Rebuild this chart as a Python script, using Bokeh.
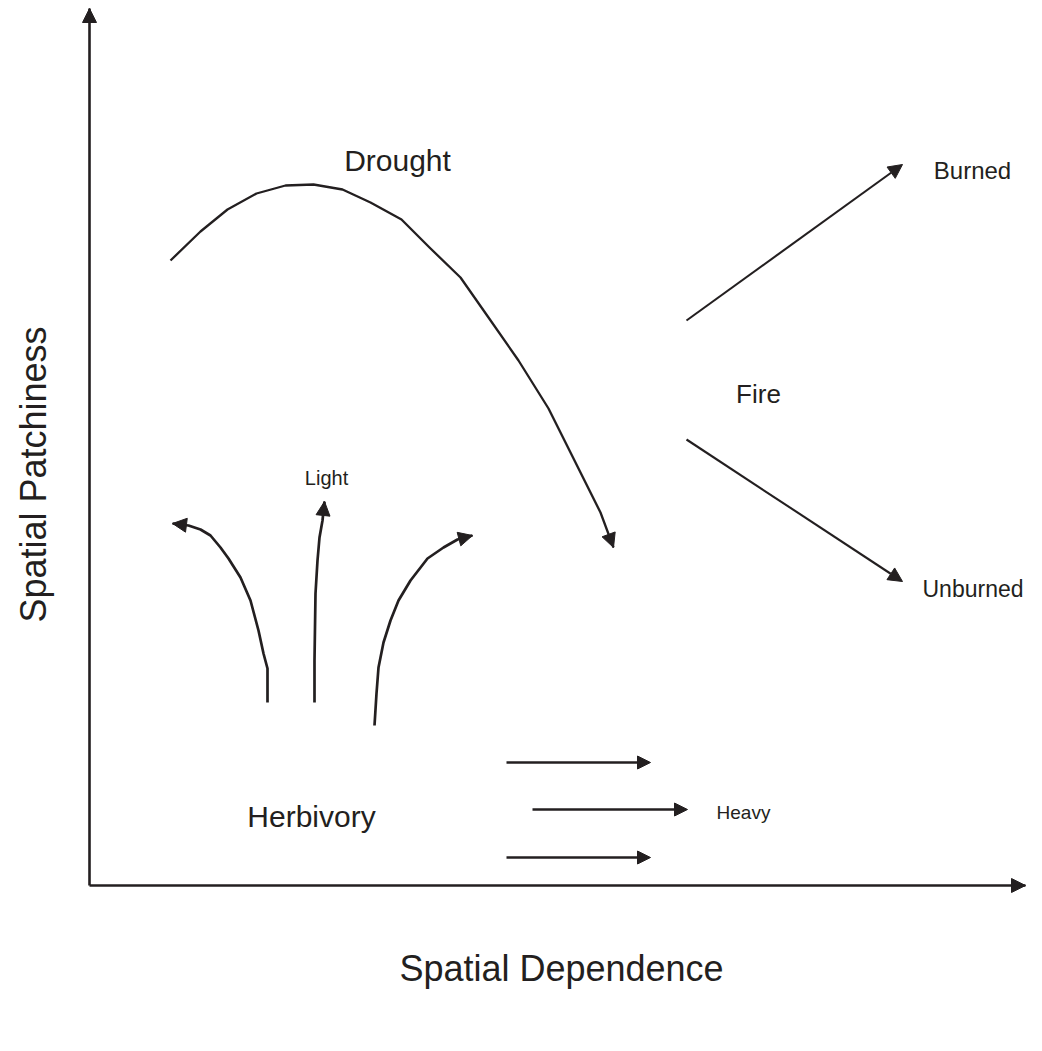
from bokeh.plotting import figure
from bokeh.models import Range1d, Arrow, NormalHead, Label
from bokeh.embed import file_html
from bokeh.resources import INLINE

INK = "#231f20"
FONT = "Liberation Sans"

# Axes (diagram coordinates)
axis_x_line = [89, 89, 1025]
axis_y_line = [8, 885, 885]

# Drought curve
drought_x = [170, 200, 227, 256, 285, 313, 342, 370, 401, 429, 460, 488, 518, 548, 575, 600, 613]
drought_y = [260, 231, 209, 193, 185, 184, 189, 202, 219, 247, 277, 317, 360, 408, 462, 512, 547]

# Light herbivory arrows
herb_left_x = [267, 267, 263, 258, 250, 240, 228, 220, 210, 200, 188, 172]
herb_left_y = [702, 668, 653, 630, 600, 577, 558, 547, 535, 529, 525, 523]
herb_mid_x = [314, 314, 315, 317, 319, 322, 324]
herb_mid_y = [702, 660, 593, 560, 537, 520, 501]
herb_right_x = [374, 376, 378, 383, 390, 398, 410, 427, 443, 457, 472]
herb_right_y = [725, 693, 667, 642, 620, 600, 580, 558, 547, 539, 535]

# Heavy herbivory arrows (x_start, x_end, y)
heavy_x0 = [506, 532, 506]
heavy_x1 = [650, 687, 650]
heavy_y = [762, 809, 857]

# Fire arrows
fire_x0 = [686, 686]
fire_y0 = [320, 439]
fire_x1 = [902, 902]
fire_y1 = [164, 581]

# Labels
label_text = ["Drought", "Burned", "Fire", "Light", "Herbivory", "Heavy", "Unburned"]
label_x = [397, 972, 758, 326, 311, 743, 1023]
label_y = [160, 170, 393, 477, 816, 812, 588]
label_size = [30, 24, 26, 20, 30, 19, 23]
label_align = ["center", "center", "center", "center", "center", "center", "right"]

x_title = "Spatial Dependence"
y_title = "Spatial Patchiness"

W, H = 1026, 1035
p = figure(width=W, height=H, output_backend="svg", toolbar_location=None,
           x_range=Range1d(0, W), y_range=Range1d(H, 0),
           min_border=0)
p.axis.visible = False
p.grid.visible = False
p.outline_line_color = None
p.background_fill_color = "white"
p.border_fill_color = "white"


def head(size=13):
    return NormalHead(size=size, fill_color=INK, line_color=INK, line_width=1)


# axes
p.line(axis_x_line[:2], axis_y_line[:2], line_color=INK, line_width=2.6)
p.line(axis_x_line[1:], axis_y_line[1:], line_color=INK, line_width=2.6)
p.add_layout(Arrow(end=head(14), x_start=axis_x_line[0], y_start=axis_y_line[0] + 20,
                   x_end=axis_x_line[0], y_end=axis_y_line[0], line_alpha=0))
p.add_layout(Arrow(end=head(14), x_start=axis_x_line[2] - 20, y_start=axis_y_line[2],
                   x_end=axis_x_line[2], y_end=axis_y_line[2], line_alpha=0))


def curve(xs, ys, lw=2.3, hs=14):
    p.line(xs, ys, line_color=INK, line_width=lw, line_join="round")
    p.add_layout(Arrow(end=head(hs), x_start=xs[-2], y_start=ys[-2],
                       x_end=xs[-1], y_end=ys[-1], line_alpha=0))


curve(drought_x, drought_y)
curve(herb_left_x, herb_left_y, lw=2.7)
curve(herb_mid_x, herb_mid_y, lw=2.7)
curve(herb_right_x, herb_right_y, lw=2.7)

for x0, x1, y in zip(heavy_x0, heavy_x1, heavy_y):
    p.add_layout(Arrow(end=head(13), x_start=x0, y_start=y, x_end=x1, y_end=y,
                       line_color=INK, line_width=2.5))

for x0, y0, x1, y1 in zip(fire_x0, fire_y0, fire_x1, fire_y1):
    p.add_layout(Arrow(end=head(14), x_start=x0, y_start=y0, x_end=x1, y_end=y1,
                       line_color=INK, line_width=2.1))

for t, x, y, s, a in zip(label_text, label_x, label_y, label_size, label_align):
    p.add_layout(Label(x=x, y=y, text=t, text_font=FONT, text_font_size=f"{s}px",
                       text_color=INK, text_align=a, text_baseline="middle"))

p.add_layout(Label(x=561, y=968, text=x_title, text_font=FONT, text_font_size="36px",
                   text_color=INK, text_align="center", text_baseline="middle"))
p.add_layout(Label(x=33, y=474, text=y_title, text_font=FONT, text_font_size="36px",
                   text_color=INK, text_align="center", text_baseline="middle",
                   angle=1.5707963267948966))

open("out.html", "w").write(file_html(p, INLINE))
